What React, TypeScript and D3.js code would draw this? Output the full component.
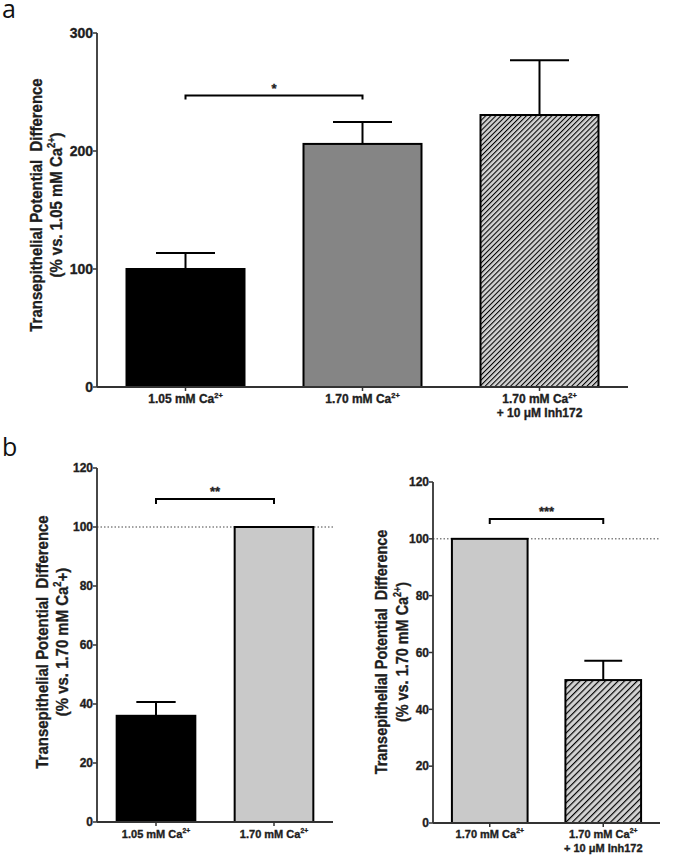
import React from 'react';
import * as d3 from 'd3';

// ---------- DATA ----------
const panelACategories = ['1.05 mM Ca^{2+}', '1.70 mM Ca^{2+}', '1.70 mM Ca^{2+}\n+ 10 μM Inh172'];
const panelAMeans = [100, 206, 230.5];
const panelASEM = [13.5, 18.5, 46.5];
const panelAFills = ['#000000', '#858585', 'url(#hatchA)'];
const panelATicks = [0, 100, 200, 300];
const panelATitle = ['Transepithelial Potential  Difference', '(% vs. 1.05 mM Ca^{2+})'];
const panelASig = { from: 0, to: 1, value: 247, label: '*' };

const panelBLeftCategories = ['1.05 mM Ca^{2+}', '1.70 mM Ca^{2+}'];
const panelBLeftMeans = [36, 100];
const panelBLeftSEM = [4.7, 0];
const panelBLeftFills = ['#000000', '#c9c9c9'];
const panelBLeftTitle = ['Transepithelial Potential  Difference', '(% vs. 1.70 mM Ca^{2}+)'];
const panelBLeftSig = { from: 0, to: 1, value: 109.5, label: '**' };

const panelBRightCategories = ['1.70 mM Ca^{2+}', '1.70 mM Ca^{2+}\n+ 10 μM Inh172'];
const panelBRightMeans = [100, 50.3];
const panelBRightSEM = [0, 6.8];
const panelBRightFills = ['#c9c9c9', 'url(#hatchB)'];
const panelBRightTitle = ['Transepithelial Potential  Difference', '(% vs. 1.70 mM Ca^{2+})'];
const panelBRightSig = { from: 0, to: 1, value: 107, label: '***' };

const panelBTicks = [0, 20, 40, 60, 80, 100, 120];
const referenceLineB = 100;

const FONT = '"Liberation Sans", Arial, Helvetica, sans-serif';

function rich(str: string, fs: number) {
  const parts = str.split(/\^\{([^}]*)\}/);
  const out: any[] = [];
  let pendingDy = 0;
  parts.forEach((p, i) => {
    if (p === '') return;
    if (i % 2 === 1) {
      out.push(
        <tspan key={i} dy={-fs * 0.42} fontSize={fs * 0.62}>
          {p}
        </tspan>
      );
      pendingDy = fs * 0.42;
    } else {
      out.push(
        <tspan key={i} dy={pendingDy || undefined}>
          {p}
        </tspan>
      );
      pendingDy = 0;
    }
  });
  return out;
}

type PanelProps = {
  categories: string[];
  means: number[];
  sems: number[];
  fills: string[];
  ticks: number[];
  title: string[];
  sig: { from: number; to: number; value: number; label: string };
  x0: number;
  x1: number;
  yTop: number;
  yBottom: number;
  yMax: number;
  tickFont: number;
  labelFont: number;
  labelBaseline: number;
  labelGap: number;
  titleFont: number;
  titleCompress: number;
  titleX: number[];
  titleCenter: number;
  bracketDrop: number;
  sigFont: number;
  refLine?: number;
  barStroke: number;
};

const TEXT_INK = '#1e1e1e';

function Panel(p: PanelProps) {
  const x = d3
    .scaleBand<string>()
    .domain(p.categories)
    .range([p.x0, p.x1])
    .paddingInner(1 / 3)
    .paddingOuter(1 / 6);
  const y = d3.scaleLinear().domain([0, p.yMax]).range([p.yBottom, p.yTop]);
  const bw = x.bandwidth();
  const cx = (c: string) => (x(c) as number) + bw / 2;
  const axisColor = '#333';
  const sigX1 = cx(p.categories[p.sig.from]);
  const sigX2 = cx(p.categories[p.sig.to]);
  const sigY = y(p.sig.value);
  const boldInk = { stroke: TEXT_INK, strokeWidth: 0.35 };
  return (
    <g fontFamily={FONT}>
      {p.refLine !== undefined && (
        <line
          x1={p.x0}
          x2={p.x1}
          y1={y(p.refLine)}
          y2={y(p.refLine)}
          stroke="#444"
          strokeWidth={1}
          strokeDasharray="1.5,2"
        />
      )}
      {p.categories.map((c, i) => (
        <g key={c}>
          {p.sems[i] > 0 && (
            <g stroke="#000" strokeWidth={2}>
              <line x1={cx(c)} x2={cx(c)} y1={y(p.means[i])} y2={y(p.means[i] + p.sems[i])} />
              <line
                x1={cx(c) - bw / 4}
                x2={cx(c) + bw / 4}
                y1={y(p.means[i] + p.sems[i])}
                y2={y(p.means[i] + p.sems[i])}
              />
            </g>
          )}
          <rect
            x={x(c)}
            y={y(p.means[i])}
            width={bw}
            height={y(0) - y(p.means[i])}
            fill={p.fills[i]}
            stroke="#000"
            strokeWidth={p.barStroke}
          />
        </g>
      ))}
      {/* axes */}
      <line x1={p.x0} x2={p.x0} y1={p.yTop} y2={p.yBottom} stroke={axisColor} strokeWidth={1.8} />
      <line x1={p.x0} x2={p.x1} y1={p.yBottom} y2={p.yBottom} stroke={axisColor} strokeWidth={1.8} />
      {p.ticks.map((t) => (
        <g key={t}>
          <line x1={p.x0 - 4} x2={p.x0} y1={y(t)} y2={y(t)} stroke={axisColor} strokeWidth={1.5} />
          <text
            x={p.x0 - 4}
            y={y(t)}
            dy="0.36em"
            textAnchor="end"
            fontSize={p.tickFont}
            fontWeight="bold"
            fill={TEXT_INK}
            {...boldInk}
          >
            {t}
          </text>
        </g>
      ))}
      {p.categories.map((c) => (
        <g key={'xl' + c}>
          <line x1={cx(c)} x2={cx(c)} y1={p.yBottom} y2={p.yBottom + 4} stroke={axisColor} strokeWidth={1.5} />
          {c.split('\n').map((line, li) => (
            <text
              key={li}
              x={cx(c)}
              y={p.labelBaseline + li * p.labelGap}
              textAnchor="middle"
              fontSize={p.labelFont}
              fontWeight="bold"
              fill={TEXT_INK}
              {...boldInk}
            >
              {rich(line, p.labelFont)}
            </text>
          ))}
        </g>
      ))}
      {/* title */}
      {p.title.map((t, i) => (
        <text
          key={i}
          transform={`translate(${p.titleX[i]},${p.titleCenter}) rotate(-90) scale(${p.titleCompress},1)`}
          textAnchor="middle"
          fontSize={p.titleFont}
          fontWeight="bold"
          fill={TEXT_INK}
          {...boldInk}
          style={{ whiteSpace: 'pre' }}
        >
          {rich(t, p.titleFont)}
        </text>
      ))}
      {/* significance bracket */}
      <path
        d={`M${sigX1},${sigY + p.bracketDrop}V${sigY}H${sigX2}V${sigY + p.bracketDrop}`}
        fill="none"
        stroke="#000"
        strokeWidth={2}
      />
      <text
        x={(sigX1 + sigX2) / 2}
        y={sigY - 3}
        textAnchor="middle"
        fontSize={p.sigFont}
        fontWeight="bold"
        fill={TEXT_INK}
        {...boldInk}
      >
        {p.sig.label}
      </text>
    </g>
  );
}

export default function App() {
  return (
    <svg
      width={697}
      height={865}
      style={{ position: 'absolute', left: 0, top: 0, background: '#fff' }}
    >
      <defs>
        <pattern id="hatchA" width={3.6} height={3.6} patternUnits="userSpaceOnUse" patternTransform="rotate(45)">
          <rect width={3.6} height={3.6} fill="#d2d2d2" />
          <line x1={0} y1={0} x2={0} y2={3.6} stroke="#000" strokeWidth={2.1} />
        </pattern>
        <pattern id="hatchB" width={4.5} height={4.5} patternUnits="userSpaceOnUse" patternTransform="rotate(45)">
          <rect width={4.5} height={4.5} fill="#d2d2d2" />
          <line x1={0} y1={0} x2={0} y2={4.5} stroke="#000" strokeWidth={2.3} />
        </pattern>
      </defs>
      <text x={2} y={18} fontFamily='"Open Sans", sans-serif' fontSize={25} fill="#111">a</text>
      <text x={2} y={456} fontFamily='"Open Sans", sans-serif' fontSize={25} fill="#111">b</text>
      <Panel
        categories={panelACategories}
        means={panelAMeans}
        sems={panelASEM}
        fills={panelAFills}
        ticks={panelATicks}
        title={panelATitle}
        sig={panelASig}
        x0={97}
        x1={628}
        yTop={33}
        yBottom={387}
        yMax={300}
        tickFont={14}
        labelFont={12}
        labelBaseline={403}
        labelGap={14}
        titleFont={17}
        titleCompress={0.88}
        titleX={[42, 62]}
        titleCenter={205}
        bracketDrop={4}
        sigFont={13}
        barStroke={2}
      />
      <Panel
        categories={panelBLeftCategories}
        means={panelBLeftMeans}
        sems={panelBLeftSEM}
        fills={panelBLeftFills}
        ticks={panelBTicks}
        title={panelBLeftTitle}
        sig={panelBLeftSig}
        x0={97}
        x1={333}
        yTop={468}
        yBottom={822}
        yMax={120}
        tickFont={12}
        labelFont={11}
        labelBaseline={838}
        labelGap={14}
        titleFont={17}
        titleCompress={0.88}
        titleX={[48, 68]}
        titleCenter={642}
        bracketDrop={5}
        sigFont={13}
        refLine={referenceLineB}
        barStroke={2}
      />
      <Panel
        categories={panelBRightCategories}
        means={panelBRightMeans}
        sems={panelBRightSEM}
        fills={panelBRightFills}
        ticks={panelBTicks}
        title={panelBRightTitle}
        sig={panelBRightSig}
        x0={433}
        x1={660}
        yTop={482}
        yBottom={823}
        yMax={120}
        tickFont={12}
        labelFont={11}
        labelBaseline={838}
        labelGap={14}
        titleFont={17}
        titleCompress={0.85}
        titleX={[387, 408]}
        titleCenter={652}
        bracketDrop={5}
        sigFont={13}
        refLine={referenceLineB}
        barStroke={2}
      />
    </svg>
  );
}
